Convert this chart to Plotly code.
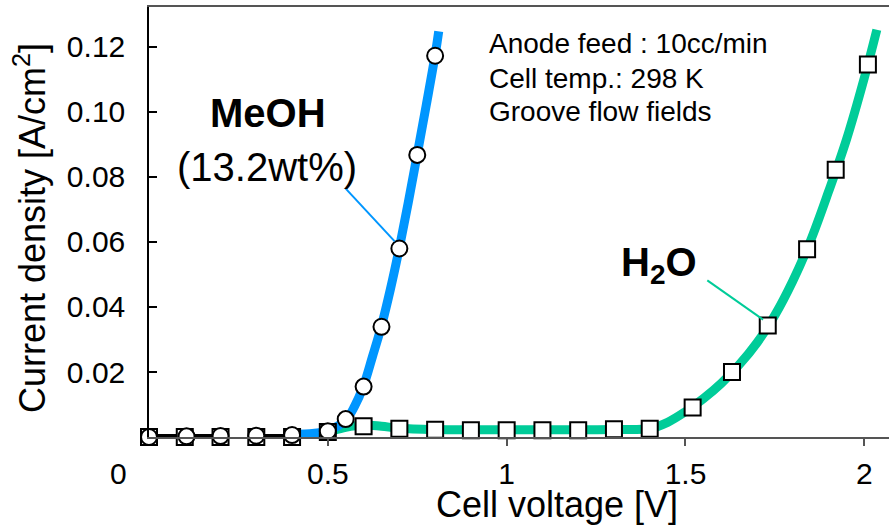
import plotly.graph_objects as go

# Measured polarization data (cell voltage in V, current density in A/cm2)
meoh_v = [0.0, 0.105, 0.2, 0.3, 0.4, 0.5, 0.55, 0.6, 0.65, 0.7, 0.75, 0.8]
meoh_j = [0.0, 0.0002, 0.0003, 0.0004, 0.0006, 0.0018, 0.0055, 0.0155, 0.0339, 0.0580, 0.0868, 0.1173]

h2o_v = [0.0, 0.1, 0.2, 0.3, 0.4, 0.5, 0.6, 0.7, 0.8, 0.9, 1.0, 1.1, 1.2, 1.3, 1.4,
         1.52, 1.63, 1.73, 1.84, 1.92, 2.01]
h2o_j = [0.0, 0.0, 0.0, 0.0, 0.0, 0.0015, 0.0033, 0.0025, 0.0022, 0.0021, 0.0021, 0.0021,
         0.0021, 0.0024, 0.0025, 0.0091, 0.0200, 0.0343, 0.0578, 0.0822, 0.1146]

# Smoothed trend curves drawn behind the markers
meoh_fit_v = [0.40, 0.45, 0.50, 0.55, 0.575, 0.60, 0.625, 0.65, 0.675, 0.70, 0.725, 0.75, 0.775, 0.80, 0.81]
meoh_fit_j = [0.0009, 0.0010, 0.0019, 0.0052, 0.0095, 0.0158, 0.0248, 0.0342, 0.0455, 0.0582,
              0.0722, 0.0870, 0.1020, 0.1175, 0.1248]

h2o_fit_v = [0.47, 0.50, 0.55, 0.60, 0.65, 0.70, 0.80, 0.90, 1.00, 1.10, 1.20, 1.30, 1.40, 1.45,
             1.50, 1.55, 1.60, 1.65, 1.70, 1.75, 1.80, 1.85, 1.90, 1.95, 2.00, 2.035]
h2o_fit_j = [0.0006, 0.0015, 0.0030, 0.0037, 0.0033, 0.0027, 0.0023, 0.0022, 0.0022, 0.0022,
             0.0022, 0.0023, 0.0026, 0.0045, 0.0078, 0.0118, 0.0165, 0.0222, 0.0290, 0.0375,
             0.0480, 0.0605, 0.0755, 0.0915, 0.1105, 0.1253]

# Low-voltage baseline segments
base_v = [0.0, 0.2, None, 0.3, 0.4]
base_j = [0.0003, 0.0003, None, 0.0003, 0.0003]

x_ticks = [0.5, 1, 1.5, 2]
x_labels = ["0.5", "1", "1.5", "2"]
y_ticks = [0.02, 0.04, 0.06, 0.08, 0.10, 0.12]
y_labels = ["0.02", "0.04", "0.06", "0.08", "0.10", "0.12"]

BLUE = "#0096FF"
TEAL = "#00CC99"
FONT = "Liberation Sans, Arial, sans-serif"

fig = go.Figure()

fig.add_trace(go.Scatter(x=h2o_fit_v, y=h2o_fit_j, mode="lines",
                         line=dict(color=TEAL, width=9, shape="spline", smoothing=1.0),
                         cliponaxis=False, hoverinfo="skip"))
fig.add_trace(go.Scatter(x=meoh_fit_v, y=meoh_fit_j, mode="lines",
                         line=dict(color=BLUE, width=9, shape="spline", smoothing=1.0),
                         cliponaxis=False, hoverinfo="skip"))
fig.add_trace(go.Scatter(x=base_v, y=base_j, mode="lines",
                         line=dict(color="black", width=4),
                         cliponaxis=False, hoverinfo="skip"))
fig.add_trace(go.Scatter(x=h2o_v, y=h2o_j, mode="markers", name="H2O",
                         marker=dict(symbol="square", size=16, color="white",
                                     line=dict(color="black", width=2)),
                         cliponaxis=False))
fig.add_trace(go.Scatter(x=meoh_v, y=meoh_j, mode="markers", name="MeOH",
                         marker=dict(symbol="circle", size=16, color="white",
                                     line=dict(color="black", width=2)),
                         cliponaxis=False))

# Labels inside the plotting area (data coordinates)
inner = [
    dict(x=0.332, y=0.0998, text="<b>MeOH</b>", font=dict(size=40)),
    dict(x=0.331, y=0.0832, text="(13.2wt%)", font=dict(size=40)),
    dict(x=1.427, y=0.0530, text="<b>H<sub>2</sub>O</b>", font=dict(size=40)),
    dict(x=0.945, y=0.1210, text="Anode feed : 10cc/min", font=dict(size=28), xanchor="left"),
    dict(x=0.945, y=0.1103, text="Cell temp.: 298 K", font=dict(size=28), xanchor="left"),
    dict(x=0.945, y=0.1001, text="Groove flow fields", font=dict(size=28), xanchor="left"),
]
for a in inner:
    a["xref"] = "x"
    a["yref"] = "y"

# Origin label and axis titles (paper coordinates)
outer = [
    dict(x=-0.0412, y=-0.0844, text="0", font=dict(size=30)),
    dict(x=0.552, y=-0.158, text="Cell voltage [V]", font=dict(size=36)),
    dict(x=-0.1608, y=0.486, text="Current density [A/cm<sup>2</sup>]",
         font=dict(size=36), textangle=-90),
]
for a in outer:
    a["xref"] = "paper"
    a["yref"] = "paper"

annotations = inner + outer
for a in annotations:
    a.setdefault("xanchor", "center")
    a.setdefault("yanchor", "middle")
    a["showarrow"] = False
    a["font"] = dict(family=FONT, color="black", **a["font"])

shapes = [
    dict(type="line", xref="x", yref="y", x0=0.55, y0=0.0764, x1=0.687, y1=0.0602,
         line=dict(color=BLUE, width=2)),
    dict(type="line", xref="x", yref="y", x0=1.561, y0=0.0482, x1=1.717, y1=0.0361,
         line=dict(color=TEAL, width=2)),
]

fig.update_layout(
    width=889, height=529,
    margin=dict(l=149, r=0, t=7, b=92),
    paper_bgcolor="white", plot_bgcolor="white",
    showlegend=False,
    font=dict(family=FONT, color="black"),
    annotations=annotations,
    shapes=shapes,
    xaxis=dict(range=[0, 2.069], tickvals=x_ticks, ticktext=x_labels,
               ticks="outside", ticklen=7, tickwidth=1.5, tickcolor="#555",
               showline=True, linecolor="#555", linewidth=1.5, mirror=True,
               showgrid=False, zeroline=False,
               tickfont=dict(size=30, family=FONT, color="black"),
               ticklabelstandoff=2),
    yaxis=dict(range=[0, 0.1323], tickvals=y_ticks, ticktext=y_labels,
               ticks="inside", ticklen=8, tickwidth=1.5, tickcolor="black",
               showline=True, linecolor="black", linewidth=1.5,
               showgrid=False, zeroline=False,
               tickfont=dict(size=30, family=FONT, color="black"),
               ticklabelstandoff=16),
)

fig.write_html("out.html")
